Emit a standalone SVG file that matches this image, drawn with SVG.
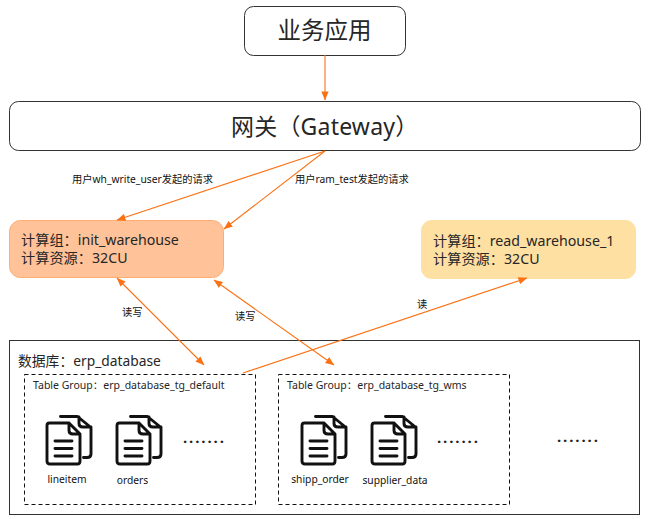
<svg xmlns="http://www.w3.org/2000/svg" xmlns:xlink="http://www.w3.org/1999/xlink" width="648" height="519" viewBox="0 0 648 519">
<style>
text{font-family:"Noto Sans","Noto Sans CJK SC",sans-serif;fill:#262626}
.box{fill:#fff;stroke:#333;stroke-width:1}
.dash{fill:none;stroke:#111;stroke-width:1;stroke-dasharray:4 3}
.c{fill:none;stroke:#fa7214;stroke-width:1.100}
.s{font-size:10.250px;fill:#111}
.t{font-size:10.500px}
.n{font-size:14.200px}
.dots{font-size:15px;font-weight:700;letter-spacing:1.900px;fill:#222}
.ic{fill:none;stroke:#111;stroke-width:2.900;stroke-linejoin:round;stroke-linecap:round}
</style>
<defs>
<marker id="a" viewBox="0 0 10 8" refX="9.500" refY="4" markerWidth="9" markerHeight="7.500" markerUnits="userSpaceOnUse" orient="auto-start-reverse"><path d="M0 0L10 4L0 8Z" fill="#fa7214"/></marker>
<g id="doc">
<path class="ic" d="M69 8H49.500Q47 8 47 10.500V46Q47 49 50 49H77.500Q80 49 80 46V19ZM69 8V15.500Q69 19 73 19H80"/>
<path class="ic" d="M60.500 1.500H77.500L91 12.500V39Q91 42.500 87 42.500H83.500M79 2V8.500Q79 12 83 12H91"/>
<path class="ic" d="M55 26H72M55 33.500H72M55 41H72"/>
</g>
</defs>
<g id="app"><rect class="box" x="244.500" y="6.500" width="161" height="49" rx="9"/><text x="324.500" y="39" font-size="23.500" text-anchor="middle">业务应用</text></g>
<g id="gateway"><rect class="box" x="9.500" y="101.500" width="631" height="49" rx="9"/><text x="231" y="135" font-size="23" letter-spacing=".2">网关（Gateway）</text></g>
<g id="init_warehouse"><rect x="9.500" y="220.500" width="214" height="57" rx="11" fill="#ffc299" stroke="#ffad73"/><text class="n"><tspan x="21" y="244.500">计算组：init_warehouse</tspan><tspan x="21" y="262.500">计算资源：32CU</tspan></text></g>
<g id="read_warehouse"><rect x="421" y="220" width="215" height="59" rx="11" fill="#ffe0a3"/><text class="n"><tspan x="433" y="245.500">计算组：read_warehouse_1</tspan><tspan x="433" y="263.500">计算资源：32CU</tspan></text></g>
<g id="database">
<rect class="box" x="9.500" y="340.500" width="630" height="174"/>
<text x="18" y="366" font-size="13.800">数据库：erp_database</text>
<text class="dots" x="557" y="445.500">·······</text>
</g>
<g id="tg_default">
<rect class="dash" x="24.500" y="374.500" width="231" height="130"/>
<text class="t" x="33" y="389">Table Group：erp_database_tg_default</text>
<use xlink:href="#doc" x="0" y="415"/><use xlink:href="#doc" x="70" y="415"/>
<text class="s" x="67" y="483" text-anchor="middle">lineitem</text>
<text class="s" x="132.500" y="484" text-anchor="middle">orders</text>
<text class="dots" x="183" y="447">·······</text>
</g>
<g id="tg_wms">
<rect class="dash" x="278.500" y="374.500" width="231" height="130"/>
<text class="t" x="287" y="389">Table Group：erp_database_tg_wms</text>
<use xlink:href="#doc" x="255" y="415"/><use xlink:href="#doc" x="325" y="415"/>
<text class="s" x="320" y="483" text-anchor="middle">shipp_order</text>
<text class="s" x="395" y="484" text-anchor="middle">supplier_data</text>
<text class="dots" x="437" y="446.500">·······</text>
</g>
<g id="connectors">
<path class="c" marker-end="url(#a)" d="M325 55V100"/>
<path class="c" marker-end="url(#a)" d="M325 151L117 220"/>
<path class="c" marker-end="url(#a)" d="M325 151L224 229"/>
<path class="c" marker-start="url(#a)" marker-end="url(#a)" d="M117 278L204 365"/>
<path class="c" marker-start="url(#a)" marker-end="url(#a)" d="M214 280L334 365"/>
<path class="c" marker-end="url(#a)" d="M243 373L527 278"/>
</g>
<g id="labels">
<text class="s" x="72" y="183">用户wh_write_user发起的请求</text>
<text class="s" x="295" y="183">用户ram_test发起的请求</text>
<text class="s" x="122" y="316">读写</text>
<text class="s" x="235" y="320">读写</text>
<text class="s" x="417" y="308">读</text>
</g>
</svg>
